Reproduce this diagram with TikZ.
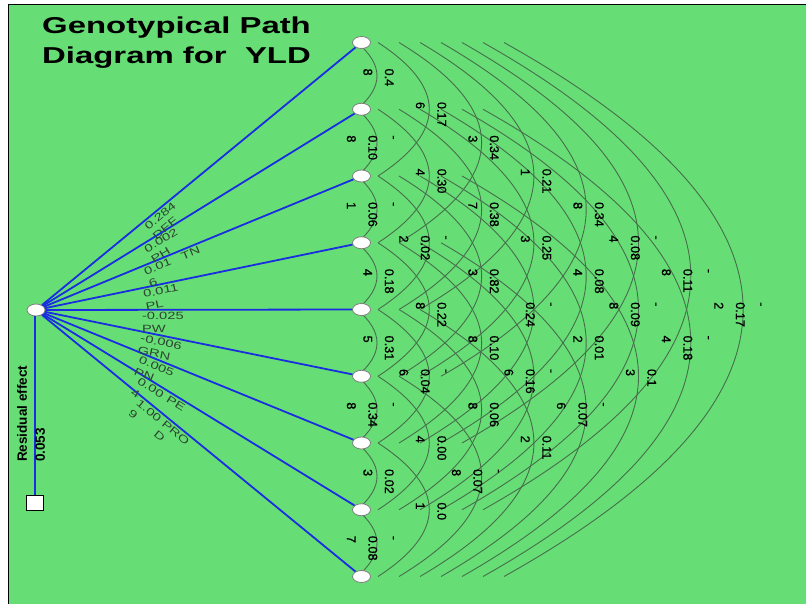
\documentclass[tikz,border=0pt]{standalone}
\usepackage{fontspec}
\setmainfont{Liberation Sans}
\newfontfamily\titlefont[FakeStretch=1.43]{Liberation Sans Bold}
\newfontfamily\corrfont[FakeBold=0.8]{Liberation Sans}
\newfontfamily\pathfont[FakeStretch=1.4]{Liberation Sans}
\usetikzlibrary{shapes.geometric,calc}
\definecolor{fieldgreen}{RGB}{102,222,117}
\definecolor{pathblue}{RGB}{25,45,225}
\definecolor{arcgray}{RGB}{70,110,76}
\definecolor{nodeedge}{RGB}{125,125,125}
\definecolor{pathtext}{RGB}{45,70,50}
\pgfdeclarelayer{back}
\pgfsetlayers{back,main}
\begin{document}
\begin{tikzpicture}[x=1pt,y=-1pt,
  trait/.style={ellipse,draw=nodeedge,fill=white,line width=0.8pt,minimum width=18pt,minimum height=12pt,inner sep=0pt},
  resbox/.style={rectangle,draw=black,fill=white,line width=1.2pt,minimum width=17pt,minimum height=15pt,inner sep=0pt},
  effect/.style={draw=pathblue,line width=1.8pt},
  corrarc/.style={draw=arcgray,line width=0.9pt},
  corrlabel/.style={rotate=-90,anchor=north west,inner sep=0pt,align=left,
    font=\corrfont\fontsize{12.7}{21.5}\selectfont,execute at begin node=\vphantom{0}},
  pathlabel/.style={anchor=north west,inner xsep=0pt,inner ysep=2.5pt,align=left,
    text=pathtext,font=\pathfont\fontsize{10.5}{12.5}\selectfont},
]
\useasboundingbox (0,0) rectangle (806,603);

% trait nodes, the yield node and the residual box
\node[trait] (yld) at (36,310) {};
\foreach \i in {1,...,9}
  \node[trait] (n\i) at (361.5,{42.5+66.75*(\i-1)}) {};
\node[resbox] (res) at (35,503) {};

\begin{pgfonlayer}{back}
  \fill[white] (0,0) rectangle (806,603);
  \filldraw[fill=fieldgreen,draw=black,line width=1.5pt] (8.5,4.5) rectangle (812,612);
  % correlation arcs between every pair of traits
  \foreach \i in {1,...,8}{
    \pgfmathtruncatemacro{\inext}{\i+1}
    \foreach \j in {\inext,...,9}{
      \pgfmathtruncatemacro{\k}{\j-\i}
      \pgfmathsetmacro{\dx}{-4.5+21*(\k-1)}
      \pgfmathsetmacro{\cx}{\dx+4/3*(20+31.3*(\k-1))}
      \pgfmathsetmacro{\cy}{2/3*33.375*\k}
      \draw[corrarc] ($(n\i)+(\dx,0)$) .. controls ($(n\i)+(\cx,\cy)$) and ($(n\j)+(\cx,-\cy)$) .. ($(n\j)+(\dx,0)$);
    }
  }
\end{pgfonlayer}

% correlation values at the arcs
\foreach \i/\j/\t in {
  1/2/{0.4\\8}, 2/3/{-\\0.10\\8}, 3/4/{-\\0.06\\1}, 4/5/{0.18\\4},
  5/6/{0.31\\5}, 6/7/{-\\0.34\\8}, 7/8/{0.02\\3}, 8/9/{-\\0.08\\7},
  1/3/{0.17\\6}, 2/4/{0.30\\4}, 3/5/{-\\0.02\\2}, 4/6/{0.22\\8},
  5/7/{-\\0.04\\6}, 6/8/{0.00\\4}, 7/9/{0.0\\1},
  1/4/{0.34\\3}, 2/5/{0.38\\7}, 3/6/{0.82\\3}, 4/7/{0.10\\8},
  5/8/{0.06\\8}, 6/9/{-\\0.07\\8},
  1/5/{0.21\\1}, 2/6/{0.25\\3}, 3/7/{-\\0.24}, 4/8/{-\\0.16\\6}, 5/9/{0.11\\2},
  1/6/{0.34\\8}, 2/7/{0.08\\4}, 3/8/{0.01\\2}, 4/9/{-\\0.07\\6},
  1/7/{-\\0.08\\4}, 2/8/{-\\0.09\\8}, 3/9/{0.1\\3},
  1/8/{-\\0.11\\8}, 2/9/{-\\0.18\\4},
  1/9/{-\\0.17\\2}}{
  \pgfmathsetmacro{\lx}{32.5+52.5*(\j-\i-1)}
  \node[corrlabel] (r\i\j) at ($(n\i)!0.5!(n\j)+(\lx,-7.5)$) {\t};
}

% direct effects on yield
\foreach \i in {1,...,9}
  \draw[effect] (yld) -- (n\i);
\draw[effect] (res.north |- yld.south) -- (res.north);

% direct effect values and trait names along the paths
\foreach \i/\t in {
  1/{0.284\\DFF}, 2/{0.002\\PH}, 3/{\makebox[40pt][l]{0.01}TN\\6},
  4/{0.011\\PL}, 5/{-0.025\\PW}, 6/{-0.006\\GRN}, 7/{0.005\\PN},
  8/{\makebox[34pt][l]{0.00}PE\\4}, 9/{\makebox[33pt][l]{1.00}PRO\\\makebox[33pt][l]{9}D}}{
  \pgfmathsetmacro{\ang}{atan2(310-(42.5+66.75*(\i-1)),325)}
  \node[pathlabel,rotate=\ang] (p\i) at ($(yld)!0.325!(n\i)$) {\t};
}

% title and residual effect
\node[anchor=north west,inner sep=0pt,align=left,
  font=\titlefont\fontsize{23}{30}\selectfont] (title) at (42,16.5)
  {Genotypical Path\\Diagram for\ \ YLD};
\node[rotate=90,anchor=north west,inner sep=0pt,align=left,
  font=\bfseries\fontsize{13.5}{18}\selectfont] (reslabel) at (17,462)
  {Residual effect\\0.053};
\end{tikzpicture}
\end{document}
